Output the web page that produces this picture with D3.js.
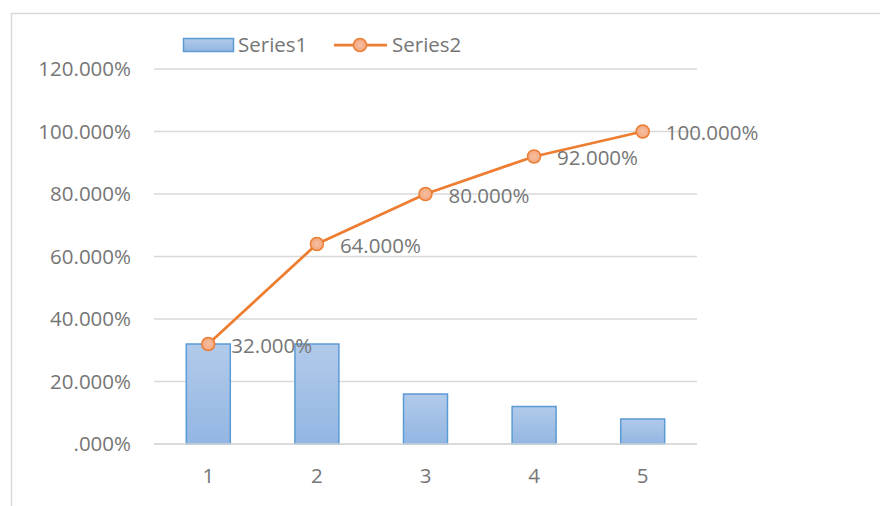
<!DOCTYPE html>
<html><head><meta charset="utf-8">
<script src="https://cdn.jsdelivr.net/npm/d3@7"></script>
<style>
html,body{margin:0;padding:0;background:#fff;}
svg{display:block;}
text{font-family:"Open Sans","Liberation Sans",sans-serif;}
</style></head>
<body>
<svg id="chart" width="880" height="506"></svg>
<script>
const categories = ["1","2","3","4","5"];
const series1 = [0.32,0.32,0.16,0.12,0.08];
const series2 = [0.32,0.64,0.80,0.92,1.00];
const yTicks = [0,0.2,0.4,0.6,0.8,1.0,1.2];
const seriesNames = ["Series1","Series2"];

const FS = 20.5, TXT = "#767676", FF = "Open Sans, Liberation Sans, sans-serif";
const svg = d3.select("#chart");
const W=880,H=506;
const margin={left:154,right:183,top:69,bottom:62};
const plotR = W-margin.right, plotB = H-margin.bottom;

const defs = svg.append("defs");
const g1 = defs.append("linearGradient").attr("id","barGrad").attr("x1",0).attr("y1",0).attr("x2",0).attr("y2",1);
g1.append("stop").attr("offset","0%").attr("stop-color","#b1caea");
g1.append("stop").attr("offset","100%").attr("stop-color","#93b6e2");
const g2 = defs.append("radialGradient").attr("id","mkGrad");
g2.append("stop").attr("offset","0%").attr("stop-color","#f7bfa0");
g2.append("stop").attr("offset","100%").attr("stop-color","#f2a882");

// chart border
svg.append("rect").attr("x",11.5).attr("y",13.5).attr("width",W+20).attr("height",H+20)
  .attr("fill","none").attr("stroke","#d9d9d9").attr("stroke-width",1.5);

const x = d3.scaleBand().domain(categories).range([margin.left,plotR]).paddingInner(0.595).paddingOuter(0.2975);
const y = d3.scaleLinear().domain([0,1.2]).range([plotB,margin.top]);

// gridlines
svg.append("g").selectAll("line").data(yTicks).join("line")
  .attr("x1",margin.left).attr("x2",plotR)
  .attr("y1",d=>y(d)).attr("y2",d=>y(d))
  .attr("stroke","#d9d9d9").attr("stroke-width",1.5);

// y axis labels
const fmt = d => d===0 ? ".000%" : d3.format(".3f")(d*100)+"%";
const yAxis = d3.axisLeft(y).tickValues(yTicks).tickFormat(fmt).tickSize(0).tickPadding(23);
const ya = svg.append("g").attr("transform",`translate(${margin.left},0)`).call(yAxis);
ya.select(".domain").remove();
ya.selectAll("text").attr("font-size",FS).attr("fill",TXT).attr("font-family",FF);

// x axis labels
const xAxis = d3.axisBottom(x).tickSize(0).tickPadding(24);
const xa = svg.append("g").attr("transform",`translate(0,${plotB})`).call(xAxis);
xa.select(".domain").remove();
xa.selectAll("text").attr("font-size",FS).attr("fill",TXT).attr("font-family",FF);

// bars
svg.append("g").selectAll("rect").data(series1).join("rect")
  .attr("x",(d,i)=>x(categories[i]))
  .attr("y",d=>y(d))
  .attr("width",x.bandwidth())
  .attr("height",d=>plotB-y(d))
  .attr("fill","url(#barGrad)").attr("stroke","#5b9bd5").attr("stroke-width",1.5);

// baseline redraw
svg.append("line").attr("x1",margin.left).attr("x2",plotR).attr("y1",y(0)).attr("y2",y(0))
  .attr("stroke","#d9d9d9").attr("stroke-width",1.5);

// line
const cx = i => x(categories[i]) + x.bandwidth()/2;
const line = d3.line().x((d,i)=>cx(i)).y(d=>y(d));
svg.append("path").datum(series2).attr("d",line).attr("fill","none")
  .attr("stroke","#ed7d31").attr("stroke-width",2.75).attr("stroke-linejoin","round");
svg.append("g").selectAll("circle").data(series2).join("circle")
  .attr("cx",(d,i)=>cx(i)).attr("cy",d=>y(d)).attr("r",6.5)
  .attr("fill","url(#mkGrad)").attr("stroke","#ed7d31").attr("stroke-width",1.5);

// data labels
svg.append("g").selectAll("text").data(series2).join("text")
  .attr("x",(d,i)=>cx(i)+23).attr("y",d=>y(d)+1.5).attr("dy","0.35em")
  .attr("font-size",FS).attr("fill",TXT).attr("font-family",FF)
  .text(d=>d3.format(".3f")(d*100)+"%");

// legend
const lg = svg.append("g");
lg.append("rect").attr("x",183.5).attr("y",38.5).attr("width",50).attr("height",13)
  .attr("fill","url(#barGrad)").attr("stroke","#5b9bd5").attr("stroke-width",1.5);
lg.append("text").attr("x",238).attr("y",45).attr("dy","0.35em").attr("font-size",FS).attr("fill",TXT).attr("font-family",FF).text(seriesNames[0]);
lg.append("line").attr("x1",334).attr("x2",387).attr("y1",45).attr("y2",45).attr("stroke","#ed7d31").attr("stroke-width",2.75);
lg.append("circle").attr("cx",360).attr("cy",45).attr("r",6.5).attr("fill","url(#mkGrad)").attr("stroke","#ed7d31").attr("stroke-width",1.5);
lg.append("text").attr("x",392).attr("y",45).attr("dy","0.35em").attr("font-size",FS).attr("fill",TXT).attr("font-family",FF).text(seriesNames[1]);
</script>
</body></html>
